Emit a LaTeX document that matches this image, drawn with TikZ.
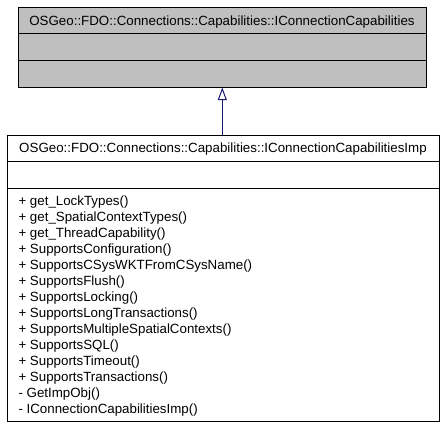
\documentclass[tikz,border=0pt]{standalone}
\usepackage{fontspec}
\setmainfont{Liberation Sans}
\usetikzlibrary{arrows.meta}
\definecolor{boxgray}{HTML}{BFBFBF}
\definecolor{edgeblue}{HTML}{191970}
\tikzset{
  classbox/.style={draw=black, line width=1pt, inner sep=0pt, outer sep=0pt},
  txt/.style={inner sep=0pt, outer sep=0pt, font=\fontsize{13.33}{16}\selectfont},
  member/.style={txt, anchor=base west},
  title/.style={txt, anchor=base},
  inherit/.style={draw=edgeblue, line width=1pt, -{Triangle[open, length=12.5pt, width=9pt, line width=1pt]}},
}
\begin{document}
\begin{tikzpicture}[x=1pt, y=-1pt]
\useasboundingbox (0,0) rectangle (443,429);
% base class
\node[classbox, fill=boxgray, anchor=north west, minimum width=408pt, minimum height=80pt] (base) at (18,7.5) {};
\draw[line width=1pt] (18,33.3) -- (426,33.3);
\draw[line width=1pt] (18,60.7) -- (426,60.7);
\node[title] (basetitle) at (222,25.3) {OSGeo::FDO::Connections::Capabilities::IConnectionCapabilities};
% implementation class
\node[classbox, fill=white, anchor=north west, minimum width=432pt, minimum height=286pt] (impl) at (7,135) {};
\draw[line width=1pt] (7,161) -- (439,161);
\draw[line width=1pt] (7,188) -- (439,188);
\node[title] (impltitle) at (223,152.8) {OSGeo::FDO::Connections::Capabilities::IConnectionCapabilitiesImp};
\foreach \t [count=\i] in {
  {+ get\_LockTypes()},
  {+ get\_SpatialContextTypes()},
  {+ get\_ThreadCapability()},
  {+ SupportsConfiguration()},
  {+ SupportsCSysWKTFromCSysName()},
  {+ SupportsFlush()},
  {+ SupportsLocking()},
  {+ SupportsLongTransactions()},
  {+ SupportsMultipleSpatialContexts()},
  {+ SupportsSQL()},
  {+ SupportsTimeout()},
  {+ SupportsTransactions()},
  {- GetImpObj()},
  {- IConnectionCapabilitiesImp()}}
  \node[member] (m\i) at (18.5,{205.8+16*(\i-1)}) {\t};
% inheritance
\coordinate (arrowstart) at (impl.north -| 222.3,0);
\coordinate (arrowend) at (base.south -| 222.3,0);
\draw[inherit] (arrowstart) -- (arrowend);
\end{tikzpicture}
\end{document}
